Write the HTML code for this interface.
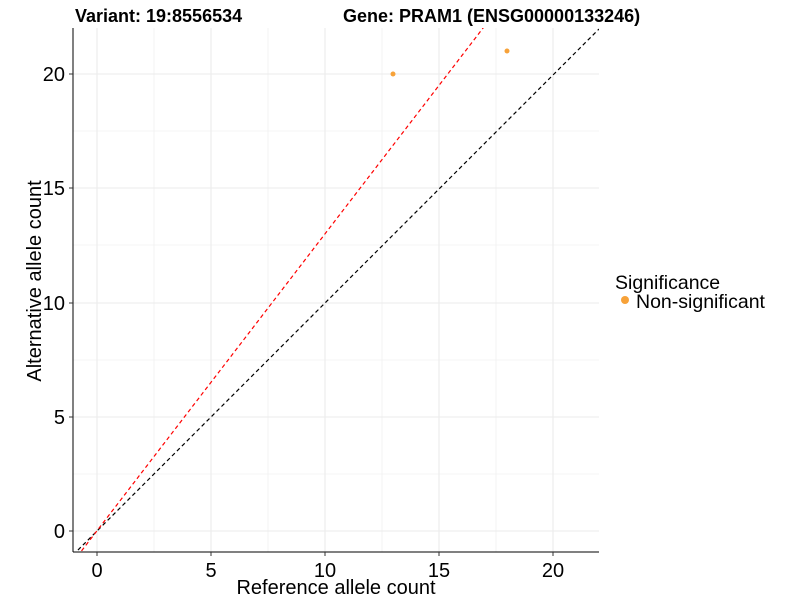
<!DOCTYPE html>
<html><head><style>body{margin:0;background:#fff}svg{display:block}</style></head><body>
<svg width="800" height="600" xmlns="http://www.w3.org/2000/svg" font-family="Liberation Sans, Arial, sans-serif">
<defs><clipPath id="c"><rect x="73" y="28" width="526" height="524"/></clipPath></defs>
<g stroke="#ebebeb" stroke-width="0.6">
<line x1="154" y1="28" x2="154" y2="552"/><line x1="268" y1="28" x2="268" y2="552"/><line x1="382" y1="28" x2="382" y2="552"/><line x1="496" y1="28" x2="496" y2="552"/>
<line x1="73" y1="474" x2="599" y2="474"/><line x1="73" y1="360" x2="599" y2="360"/><line x1="73" y1="245" x2="599" y2="245"/><line x1="73" y1="131" x2="599" y2="131"/>
</g>
<g stroke="#ebebeb" stroke-width="1.1">
<line x1="97" y1="28" x2="97" y2="552"/><line x1="211" y1="28" x2="211" y2="552"/><line x1="325" y1="28" x2="325" y2="552"/><line x1="439" y1="28" x2="439" y2="552"/><line x1="553" y1="28" x2="553" y2="552"/>
<line x1="73" y1="531" x2="599" y2="531"/><line x1="73" y1="417" x2="599" y2="417"/><line x1="73" y1="303" x2="599" y2="303"/><line x1="73" y1="188" x2="599" y2="188"/><line x1="73" y1="74" x2="599" y2="74"/>
</g>
<g clip-path="url(#c)" fill="none" stroke-dasharray="4,3" stroke-width="1.2">
<line x1="73" y1="555" x2="599" y2="29" stroke="#000"/>
<line x1="73" y1="562" x2="490" y2="19" stroke="#f00"/>
</g>
<circle cx="393" cy="74" r="2.5" fill="#F7A239"/>
<circle cx="507" cy="51" r="2.5" fill="#F7A239"/>
<line x1="73" y1="28" x2="73" y2="552" stroke="#000" stroke-width="1"/>
<line x1="73" y1="552" x2="599" y2="552" stroke="#000" stroke-width="1"/>
<g stroke="#333" stroke-width="1">
<line x1="97" y1="552" x2="97" y2="556"/><line x1="211" y1="552" x2="211" y2="556"/><line x1="325" y1="552" x2="325" y2="556"/><line x1="439" y1="552" x2="439" y2="556"/><line x1="553" y1="552" x2="553" y2="556"/>
<line x1="69" y1="531" x2="73" y2="531"/><line x1="69" y1="417" x2="73" y2="417"/><line x1="69" y1="303" x2="73" y2="303"/><line x1="69" y1="188" x2="73" y2="188"/><line x1="69" y1="74" x2="73" y2="74"/>
</g>
<g font-size="20" fill="#000" text-anchor="middle">
<text x="97" y="577">0</text><text x="211" y="577">5</text><text x="325" y="577">10</text><text x="439" y="577">15</text><text x="553" y="577">20</text>
</g>
<g font-size="20" fill="#000" text-anchor="end">
<text x="65" y="538">0</text><text x="65" y="424">5</text><text x="65" y="310">10</text><text x="65" y="195">15</text><text x="65" y="81">20</text>
</g>
<text x="336" y="594" font-size="20" text-anchor="middle">Reference allele count</text>
<text transform="translate(41,281) rotate(-90)" font-size="20" text-anchor="middle">Alternative allele count</text>
<text x="75" y="22" font-size="18" font-weight="bold">Variant: 19:8556534</text>
<text x="343" y="22" font-size="18" font-weight="bold">Gene: PRAM1 (ENSG00000133246)</text>
<text x="615" y="289" font-size="19.5">Significance</text>
<circle cx="625" cy="300" r="4" fill="#F7A239"/>
<text x="636" y="308" font-size="19.5">Non-significant</text>
</svg>
</body></html>
